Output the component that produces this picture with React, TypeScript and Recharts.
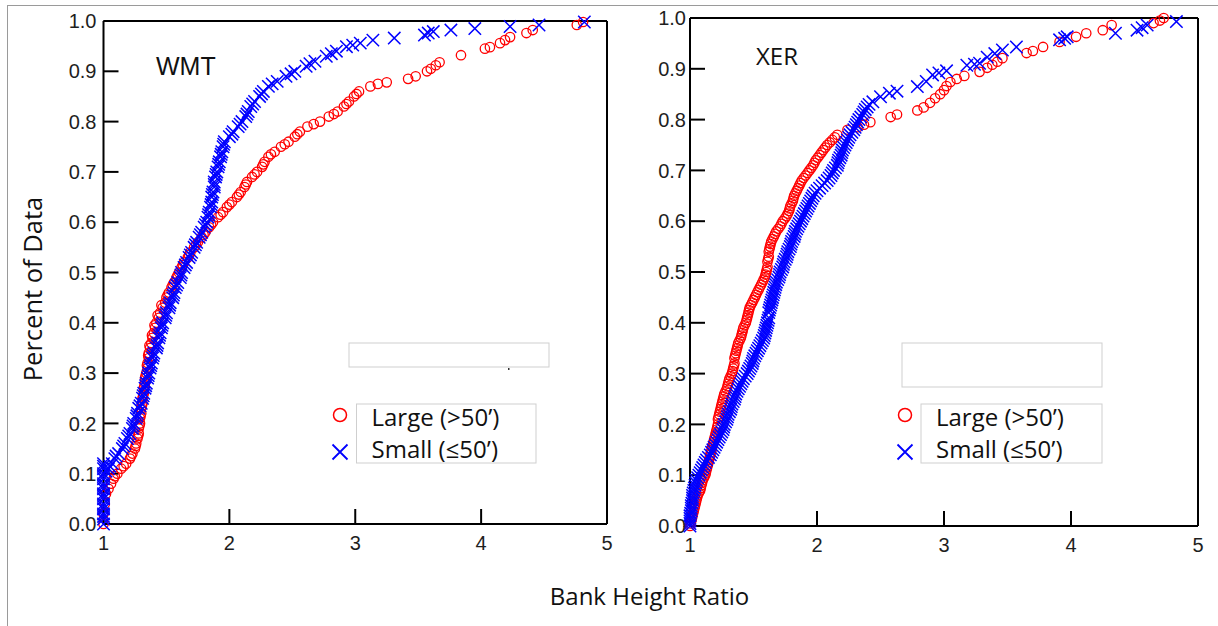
import { ScatterChart, Scatter, XAxis, YAxis, Legend } from "recharts"

const xTicks = [1, 2, 3, 4, 5]
const yTicks = [0, 0.1, 0.2, 0.3, 0.4, 0.5, 0.6, 0.7, 0.8, 0.9, 1.0]
const seriesNames = ["Large (>50\u2019)", "Small (\u226450\u2019)"]
const xTitle = "Bank Height Ratio"
const yTitle = "Percent of Data"

// WMT, large banks (>50')
const wmtLarge: [number, number][] = [
  [1.0, 0.0], [1.0, 0.02], [1.01, 0.04], [1.02, 0.06], [1.04, 0.07], [1.06, 0.08], [1.08, 0.09],
  [1.11, 0.1], [1.14, 0.11], [1.18, 0.12], [1.21, 0.13], [1.23, 0.14], [1.25, 0.15], [1.26, 0.16],
  [1.27, 0.17], [1.28, 0.18], [1.28, 0.19], [1.29, 0.2], [1.29, 0.21], [1.3, 0.22], [1.3, 0.23],
  [1.31, 0.24], [1.31, 0.25], [1.32, 0.26], [1.32, 0.27], [1.33, 0.28], [1.33, 0.29], [1.34, 0.3],
  [1.35, 0.31], [1.35, 0.32], [1.36, 0.33], [1.36, 0.34], [1.37, 0.35], [1.38, 0.36], [1.39, 0.37],
  [1.4, 0.38], [1.41, 0.39], [1.42, 0.4], [1.44, 0.41], [1.45, 0.42], [1.47, 0.43], [1.49, 0.44],
  [1.5, 0.45], [1.52, 0.46], [1.54, 0.47], [1.56, 0.48], [1.58, 0.49], [1.6, 0.5], [1.62, 0.51],
  [1.64, 0.52], [1.67, 0.53], [1.69, 0.54], [1.72, 0.55], [1.75, 0.56], [1.78, 0.57], [1.81, 0.58],
  [1.84, 0.59], [1.87, 0.6], [1.91, 0.61], [1.95, 0.62], [1.98, 0.63], [2.02, 0.64], [2.06, 0.65],
  [2.09, 0.66], [2.12, 0.67], [2.14, 0.68], [2.18, 0.69], [2.22, 0.7], [2.26, 0.71], [2.28, 0.72],
  [2.31, 0.73], [2.36, 0.74], [2.41, 0.75], [2.47, 0.76], [2.52, 0.77], [2.56, 0.78], [2.62, 0.79],
  [2.72, 0.8], [2.79, 0.81], [2.86, 0.82], [2.91, 0.83], [2.95, 0.84], [2.99, 0.85], [3.03, 0.86],
  [3.12, 0.87], [3.18, 0.875], [3.25, 0.878], [3.42, 0.885], [3.48, 0.89], [3.57, 0.9], [3.6, 0.905],
  [3.64, 0.912], [3.67, 0.918], [3.84, 0.932], [4.03, 0.945], [4.07, 0.948], [4.15, 0.956],
  [4.19, 0.962], [4.23, 0.968], [4.36, 0.976], [4.41, 0.982], [4.76, 0.992], [4.81, 0.998],
  // denser part of the band
  [1.09, 0.095], [1.16, 0.115], [1.22, 0.135], [1.255, 0.155], [1.275, 0.175], [1.285, 0.195],
  [1.295, 0.215], [1.305, 0.235], [1.315, 0.255], [1.325, 0.275], [1.335, 0.295], [1.345, 0.315],
  [1.355, 0.335], [1.365, 0.355], [1.385, 0.375], [1.405, 0.395], [1.43, 0.415], [1.46, 0.435],
  [1.51, 0.455], [1.55, 0.475], [1.59, 0.495], [1.63, 0.515], [1.68, 0.535], [1.735, 0.555],
  [1.795, 0.575], [1.855, 0.595], [1.93, 0.615], [2.0, 0.635], [2.075, 0.655], [2.13, 0.675],
  [2.2, 0.695], [2.27, 0.715], [2.33, 0.735], [2.44, 0.755], [2.54, 0.775], [2.67, 0.795],
  [2.83, 0.815], [2.93, 0.835], [3.01, 0.855],
]

// WMT, small banks (<=50')
const wmtSmall: [number, number][] = [
  [1.0, 0.0], [1.0, 0.01], [1.0, 0.02], [1.0, 0.03], [1.0, 0.04], [1.0, 0.05], [1.0, 0.06],
  [1.0, 0.07], [1.0, 0.08], [1.0, 0.09], [1.0, 0.1], [1.0, 0.11], [1.0, 0.12], [1.04, 0.11],
  [1.07, 0.12], [1.09, 0.13], [1.12, 0.14], [1.15, 0.15], [1.17, 0.16], [1.19, 0.17], [1.21, 0.18],
  [1.23, 0.19], [1.24, 0.2], [1.26, 0.21], [1.27, 0.22], [1.28, 0.23], [1.3, 0.24], [1.31, 0.25],
  [1.32, 0.26], [1.33, 0.27], [1.34, 0.28], [1.35, 0.29], [1.36, 0.3], [1.37, 0.31], [1.38, 0.32],
  [1.39, 0.33], [1.4, 0.34], [1.42, 0.35], [1.43, 0.36], [1.44, 0.37], [1.45, 0.38], [1.46, 0.39],
  [1.47, 0.4], [1.49, 0.41], [1.5, 0.42], [1.52, 0.43], [1.53, 0.44], [1.55, 0.45], [1.56, 0.46],
  [1.57, 0.47], [1.59, 0.48], [1.61, 0.49], [1.62, 0.5], [1.64, 0.51], [1.66, 0.52], [1.68, 0.53],
  [1.7, 0.54], [1.72, 0.55], [1.74, 0.56], [1.76, 0.57], [1.78, 0.58], [1.8, 0.59], [1.82, 0.6],
  [1.83, 0.61], [1.84, 0.62], [1.85, 0.63], [1.86, 0.64], [1.86, 0.65], [1.87, 0.66], [1.88, 0.67],
  [1.88, 0.68], [1.89, 0.69], [1.9, 0.7], [1.91, 0.71], [1.92, 0.72], [1.93, 0.73], [1.94, 0.74],
  [1.95, 0.75], [1.96, 0.76], [2.0, 0.77], [2.03, 0.78], [2.07, 0.79], [2.1, 0.8], [2.13, 0.81],
  [2.15, 0.82], [2.17, 0.83], [2.2, 0.84], [2.24, 0.85], [2.27, 0.86], [2.31, 0.87], [2.38, 0.88],
  [2.45, 0.89], [2.52, 0.9], [2.61, 0.91], [2.68, 0.92], [2.77, 0.93], [2.85, 0.94], [2.93, 0.949],
  [2.98, 0.952], [3.04, 0.956], [3.14, 0.962], [3.31, 0.966], [3.55, 0.972], [3.58, 0.976],
  [3.62, 0.979], [3.76, 0.982], [3.95, 0.985], [4.23, 0.989], [4.46, 0.992], [4.82, 0.998],
  // denser part of the band
  [1.0, 0.015], [1.0, 0.035], [1.0, 0.055], [1.0, 0.075], [1.0, 0.095], [1.0, 0.115],
  [1.02, 0.105], [1.05, 0.115], [1.1, 0.135], [1.16, 0.155], [1.2, 0.175], [1.235, 0.195],
  [1.265, 0.215], [1.29, 0.235], [1.315, 0.255], [1.335, 0.275], [1.355, 0.295], [1.375, 0.315],
  [1.395, 0.335], [1.425, 0.355], [1.445, 0.375], [1.465, 0.395], [1.495, 0.415], [1.525, 0.435],
  [1.555, 0.455], [1.58, 0.475], [1.615, 0.495], [1.65, 0.515], [1.69, 0.535], [1.73, 0.555],
  [1.77, 0.575], [1.81, 0.595], [1.835, 0.615], [1.855, 0.635], [1.865, 0.655], [1.88, 0.675],
  [1.895, 0.695], [1.915, 0.715], [1.935, 0.735], [1.955, 0.755], [2.02, 0.775], [2.085, 0.795],
  [2.14, 0.815], [2.185, 0.835], [2.255, 0.855], [2.34, 0.875], [2.49, 0.895], [2.64, 0.915],
  [2.81, 0.935],
]

// XER, large banks (>50')
const xerLarge: [number, number][] = [
  [1.0, 0.0], [1.01, 0.01], [1.02, 0.02], [1.03, 0.03], [1.04, 0.04], [1.05, 0.05], [1.06, 0.06],
  [1.08, 0.07], [1.09, 0.08], [1.1, 0.09], [1.12, 0.1], [1.13, 0.11], [1.14, 0.12], [1.15, 0.13],
  [1.16, 0.14], [1.17, 0.15], [1.18, 0.16], [1.19, 0.17], [1.2, 0.18], [1.21, 0.19], [1.22, 0.2],
  [1.22, 0.21], [1.23, 0.22], [1.24, 0.23], [1.25, 0.24], [1.26, 0.25], [1.27, 0.26], [1.29, 0.27],
  [1.3, 0.28], [1.31, 0.29], [1.33, 0.3], [1.34, 0.31], [1.35, 0.32], [1.35, 0.33], [1.36, 0.34],
  [1.37, 0.35], [1.38, 0.36], [1.4, 0.37], [1.41, 0.38], [1.42, 0.39], [1.44, 0.4], [1.45, 0.41],
  [1.46, 0.42], [1.47, 0.43], [1.49, 0.44], [1.51, 0.45], [1.53, 0.46], [1.55, 0.47], [1.57, 0.48],
  [1.59, 0.49], [1.6, 0.5], [1.61, 0.51], [1.61, 0.52], [1.62, 0.53], [1.62, 0.54], [1.63, 0.55],
  [1.64, 0.56], [1.66, 0.57], [1.68, 0.58], [1.71, 0.59], [1.73, 0.6], [1.76, 0.61], [1.78, 0.62],
  [1.79, 0.63], [1.81, 0.64], [1.82, 0.65], [1.84, 0.66], [1.86, 0.67], [1.88, 0.68], [1.91, 0.69],
  [1.94, 0.7], [1.97, 0.71], [1.99, 0.72], [2.02, 0.73], [2.05, 0.74], [2.08, 0.75], [2.12, 0.76],
  [2.16, 0.77], [2.24, 0.78], [2.32, 0.785], [2.37, 0.79], [2.42, 0.795], [2.58, 0.805], [2.63, 0.81],
  [2.79, 0.818], [2.84, 0.824], [2.89, 0.833], [2.93, 0.842], [2.97, 0.85], [3.0, 0.858],
  [3.02, 0.866], [3.05, 0.874], [3.1, 0.88], [3.16, 0.886], [3.28, 0.894], [3.34, 0.902],
  [3.38, 0.908], [3.42, 0.914], [3.46, 0.921], [3.65, 0.931], [3.7, 0.935], [3.78, 0.943],
  [3.91, 0.953], [4.04, 0.963], [4.12, 0.97], [4.25, 0.976], [4.32, 0.986], [4.65, 0.99],
  [4.7, 0.995], [4.73, 1.0],
  // denser part of the band
  [1.005, 0.005], [1.015, 0.015], [1.025, 0.025], [1.035, 0.035], [1.045, 0.045], [1.055, 0.055],
  [1.07, 0.065], [1.085, 0.075], [1.095, 0.085], [1.11, 0.095], [1.125, 0.105], [1.135, 0.115],
  [1.145, 0.125], [1.155, 0.135], [1.165, 0.145], [1.175, 0.155], [1.185, 0.165], [1.195, 0.175],
  [1.205, 0.185], [1.215, 0.195], [1.225, 0.215], [1.235, 0.225], [1.245, 0.235], [1.255, 0.245],
  [1.265, 0.255], [1.28, 0.265], [1.295, 0.275], [1.305, 0.285], [1.32, 0.295], [1.335, 0.305],
  [1.345, 0.315], [1.355, 0.335], [1.365, 0.345], [1.375, 0.355], [1.39, 0.365], [1.405, 0.375],
  [1.415, 0.385], [1.43, 0.395], [1.445, 0.405], [1.455, 0.415], [1.465, 0.425], [1.48, 0.435],
  [1.5, 0.445], [1.52, 0.455], [1.54, 0.465], [1.56, 0.475], [1.58, 0.485], [1.595, 0.495],
  [1.605, 0.505], [1.615, 0.525], [1.625, 0.545], [1.635, 0.555], [1.65, 0.565], [1.67, 0.575],
  [1.695, 0.585], [1.72, 0.595], [1.745, 0.605], [1.77, 0.615], [1.785, 0.625], [1.8, 0.635],
  [1.815, 0.645], [1.83, 0.655], [1.85, 0.665], [1.87, 0.675], [1.895, 0.685], [1.925, 0.695],
  [1.955, 0.705], [1.98, 0.715], [2.005, 0.725], [2.035, 0.735], [2.065, 0.745], [2.1, 0.755],
  [2.14, 0.765],
]

// XER, small banks (<=50')
const xerSmall: [number, number][] = [
  [1.0, 0.0], [1.0, 0.01], [1.0, 0.02], [1.01, 0.03], [1.01, 0.04], [1.02, 0.05], [1.02, 0.06],
  [1.03, 0.07], [1.04, 0.08], [1.05, 0.09], [1.07, 0.1], [1.09, 0.11], [1.11, 0.12], [1.13, 0.13],
  [1.16, 0.14], [1.18, 0.15], [1.2, 0.16], [1.22, 0.17], [1.24, 0.18], [1.26, 0.19], [1.27, 0.2],
  [1.29, 0.21], [1.3, 0.22], [1.32, 0.23], [1.33, 0.24], [1.35, 0.25], [1.36, 0.26], [1.38, 0.27],
  [1.4, 0.28], [1.42, 0.29], [1.45, 0.3], [1.47, 0.31], [1.49, 0.32], [1.5, 0.33], [1.52, 0.34],
  [1.54, 0.35], [1.56, 0.36], [1.58, 0.37], [1.59, 0.38], [1.6, 0.39], [1.61, 0.4], [1.62, 0.41],
  [1.62, 0.42], [1.63, 0.43], [1.64, 0.44], [1.65, 0.45], [1.66, 0.46], [1.67, 0.47], [1.68, 0.48],
  [1.7, 0.49], [1.71, 0.5], [1.73, 0.51], [1.74, 0.52], [1.76, 0.53], [1.77, 0.54], [1.79, 0.55],
  [1.8, 0.56], [1.82, 0.57], [1.83, 0.58], [1.85, 0.59], [1.87, 0.6], [1.89, 0.61], [1.91, 0.62],
  [1.93, 0.63], [1.95, 0.64], [1.97, 0.65], [2.0, 0.66], [2.04, 0.67], [2.08, 0.68], [2.11, 0.69],
  [2.13, 0.7], [2.16, 0.71], [2.17, 0.72], [2.19, 0.73], [2.2, 0.74], [2.22, 0.75], [2.24, 0.76],
  [2.26, 0.77], [2.29, 0.78], [2.31, 0.79], [2.33, 0.8], [2.36, 0.81], [2.38, 0.82], [2.41, 0.83],
  [2.44, 0.835], [2.5, 0.845], [2.57, 0.852], [2.63, 0.856], [2.79, 0.865], [2.86, 0.875],
  [2.91, 0.888], [2.96, 0.892], [3.02, 0.896], [3.18, 0.907], [3.24, 0.909], [3.28, 0.911],
  [3.34, 0.923], [3.4, 0.93], [3.46, 0.937], [3.57, 0.943], [3.91, 0.957], [3.95, 0.96],
  [3.97, 0.963], [4.35, 0.97], [4.52, 0.976], [4.56, 0.981], [4.6, 0.986], [4.83, 0.993],
  // denser part of the band
  [1.0, 0.005], [1.0, 0.015], [1.005, 0.025], [1.01, 0.035], [1.015, 0.045], [1.02, 0.055],
  [1.025, 0.065], [1.035, 0.075], [1.045, 0.085], [1.06, 0.095], [1.08, 0.105], [1.1, 0.115],
  [1.12, 0.125], [1.145, 0.135], [1.17, 0.145], [1.19, 0.155], [1.21, 0.165], [1.23, 0.175],
  [1.25, 0.185], [1.265, 0.195], [1.28, 0.205], [1.295, 0.215], [1.31, 0.225], [1.325, 0.235],
  [1.34, 0.245], [1.355, 0.255], [1.37, 0.265], [1.39, 0.275], [1.41, 0.285], [1.435, 0.295],
  [1.46, 0.305], [1.48, 0.315], [1.495, 0.325], [1.51, 0.335], [1.53, 0.345], [1.55, 0.355],
  [1.57, 0.365], [1.585, 0.375], [1.595, 0.385], [1.605, 0.395], [1.615, 0.405], [1.625, 0.425],
  [1.635, 0.435], [1.645, 0.445], [1.655, 0.455], [1.665, 0.465], [1.675, 0.475], [1.69, 0.485],
  [1.705, 0.495], [1.72, 0.505], [1.735, 0.515], [1.75, 0.525], [1.765, 0.535], [1.78, 0.545],
  [1.795, 0.555], [1.81, 0.565], [1.825, 0.575], [1.84, 0.585], [1.86, 0.595], [1.88, 0.605],
  [1.9, 0.615], [1.92, 0.625], [1.94, 0.635], [1.96, 0.645], [1.985, 0.655], [2.02, 0.665],
  [2.06, 0.675], [2.095, 0.685], [2.12, 0.695], [2.145, 0.705], [2.165, 0.715], [2.18, 0.725],
  [2.195, 0.735], [2.21, 0.745], [2.23, 0.755], [2.25, 0.765], [2.275, 0.775], [2.3, 0.785],
  [2.32, 0.795], [2.345, 0.805], [2.37, 0.815], [2.395, 0.825],
]

const RED = "#ff0000"
const BLUE = "#0000ff"
const TICK_FONT = "'Liberation Sans', Arial, sans-serif"
const LABEL_FONT = "'Open Sans', sans-serif"

const toPoints = (arr: [number, number][]) => arr.map(([x, y]) => ({ x, y }))

function CircleMark(props: any) {
  const { cx, cy } = props
  return <circle cx={cx} cy={cy} r={4.7} fill="none" stroke={RED} strokeWidth={1.3} />
}

function CrossMark(props: any) {
  const { cx, cy } = props
  const s = 6.2
  return (
    <path
      d={`M${cx - s},${cy - s}L${cx + s},${cy + s}M${cx - s},${cy + s}L${cx + s},${cy - s}`}
      stroke={BLUE}
      strokeWidth={1.5}
      fill="none"
    />
  )
}

type LegendSpot = { markX: number; boxX: number; boxR: number; textX: number }

function LegendBody({ spot }: { spot: LegendSpot }) {
  const left = spot.markX - 10
  const w = spot.boxR - left
  return (
    <svg width={w} height={70} style={{ display: "block", overflow: "visible" }}>
      <rect x={spot.boxX - left} y={6} width={spot.boxR - spot.boxX} height={59} fill="none" stroke="#cfcfcf" />
      <circle cx={10} cy={17} r={6.5} fill="none" stroke={RED} strokeWidth={1.5} />
      <path d="M2.5,46.5L17.5,61.5M2.5,61.5L17.5,46.5" stroke={BLUE} strokeWidth={1.8} fill="none" />
      <text x={spot.textX - left} y={28} fontFamily={LABEL_FONT} fontSize={24} fill="#111">
        {seriesNames[0]}
      </text>
      <text x={spot.textX - left} y={60} fontFamily={LABEL_FONT} fontSize={24} fill="#111">
        {seriesNames[1]}
      </text>
    </svg>
  )
}

type PanelProps = {
  left: number
  width: number
  margin: { top: number; right: number; bottom: number; left: number }
  large: [number, number][]
  small: [number, number][]
  labelGap: number
  legend: LegendSpot
}

function Panel({ left, width, margin, large, small, labelGap, legend }: PanelProps) {
  const axisLine = { stroke: "#000", strokeWidth: 2 }
  const tickStyle = { fill: "#1e1e1e", fontSize: 20, fontFamily: TICK_FONT }
  return (
    <div style={{ position: "absolute", left, top: 0 }}>
      <ScatterChart width={width} height={560} margin={margin}>
        <XAxis
          xAxisId="b"
          type="number"
          dataKey="x"
          domain={[1, 5]}
          ticks={xTicks}
          height={30}
          axisLine={axisLine}
          tickLine={axisLine}
          tickSize={-15}
          tickMargin={27}
          tick={tickStyle}
        />
        <XAxis
          xAxisId="t"
          orientation="top"
          type="number"
          dataKey="x"
          domain={[1, 5]}
          ticks={xTicks}
          height={10}
          axisLine={axisLine}
          tickLine={axisLine}
          tickSize={-15}
          tick={false}
        />
        <YAxis
          yAxisId="l"
          type="number"
          dataKey="y"
          domain={[0, 1]}
          ticks={yTicks}
          width={60}
          axisLine={axisLine}
          tickLine={axisLine}
          tickSize={-15}
          tickMargin={15 + labelGap}
          tick={tickStyle}
          tickFormatter={(v: number) => v.toFixed(1)}
        />
        <YAxis
          yAxisId="r"
          orientation="right"
          type="number"
          dataKey="y"
          domain={[0, 1]}
          ticks={yTicks}
          width={10}
          axisLine={axisLine}
          tickLine={axisLine}
          tickSize={-15}
          tick={false}
        />
        <Legend
          layout="vertical"
          align="center"
          verticalAlign="middle"
          wrapperStyle={{ left: legend.markX - 10 - left, top: 398, width: legend.boxR - legend.markX + 10, height: 70 }}
          content={() => <LegendBody spot={legend} />}
        />
        <Scatter
          name={seriesNames[0]}
          data={toPoints(large)}
          xAxisId="b"
          yAxisId="l"
          shape={CircleMark}
          isAnimationActive={false}
        />
        <Scatter
          name={seriesNames[1]}
          data={toPoints(small)}
          xAxisId="b"
          yAxisId="l"
          shape={CrossMark}
          isAnimationActive={false}
        />
      </ScatterChart>
    </div>
  )
}

export default function App() {
  return (
    <div style={{ position: "absolute", left: 0, top: 0, width: 1218, height: 626, overflow: "hidden", background: "#fff" }}>
      <div style={{ position: "absolute", left: 7, top: 5, width: 1230, height: 640, borderLeft: "1px solid #9a9a9a", borderTop: "1px solid #9a9a9a" }} />
      <Panel
        left={0}
        width={640}
        margin={{ top: 11, right: 23, bottom: 6, left: 43.5 }}
        large={wmtLarge}
        small={wmtSmall}
        labelGap={7}
        legend={{ markX: 340, boxX: 356.5, boxR: 536, textX: 371.5 }}
      />
      <Panel
        left={600}
        width={618}
        margin={{ top: 8, right: 10, bottom: 4, left: 30 }}
        large={xerLarge}
        small={xerSmall}
        labelGap={4}
        legend={{ markX: 905, boxX: 921, boxR: 1102, textX: 936 }}
      />
      <svg width={1218} height={626} style={{ position: "absolute", left: 0, top: 0, pointerEvents: "none" }}>
        <rect x={349} y={343} width={200} height={24} fill="none" stroke="#cfcfcf" />
        <rect x={508} y={368} width={1.5} height={2} fill="#333" />
        <rect x={902} y={343} width={200} height={44} fill="none" stroke="#cfcfcf" />
        <text x={156} y={75} fontFamily={TICK_FONT} fontSize={25} fill="#111">WMT</text>
        <text x={756} y={65} fontFamily={LABEL_FONT} fontSize={24} fill="#111">XER</text>
        <text x={649.5} y={605} textAnchor="middle" fontFamily={LABEL_FONT} fontSize={24} fill="#111">{xTitle}</text>
        <text x={41.5} y={289} textAnchor="middle" transform="rotate(-90 41.5 289)" fontFamily={LABEL_FONT} fontSize={25.5} fill="#111">{yTitle}</text>
      </svg>
    </div>
  )
}
